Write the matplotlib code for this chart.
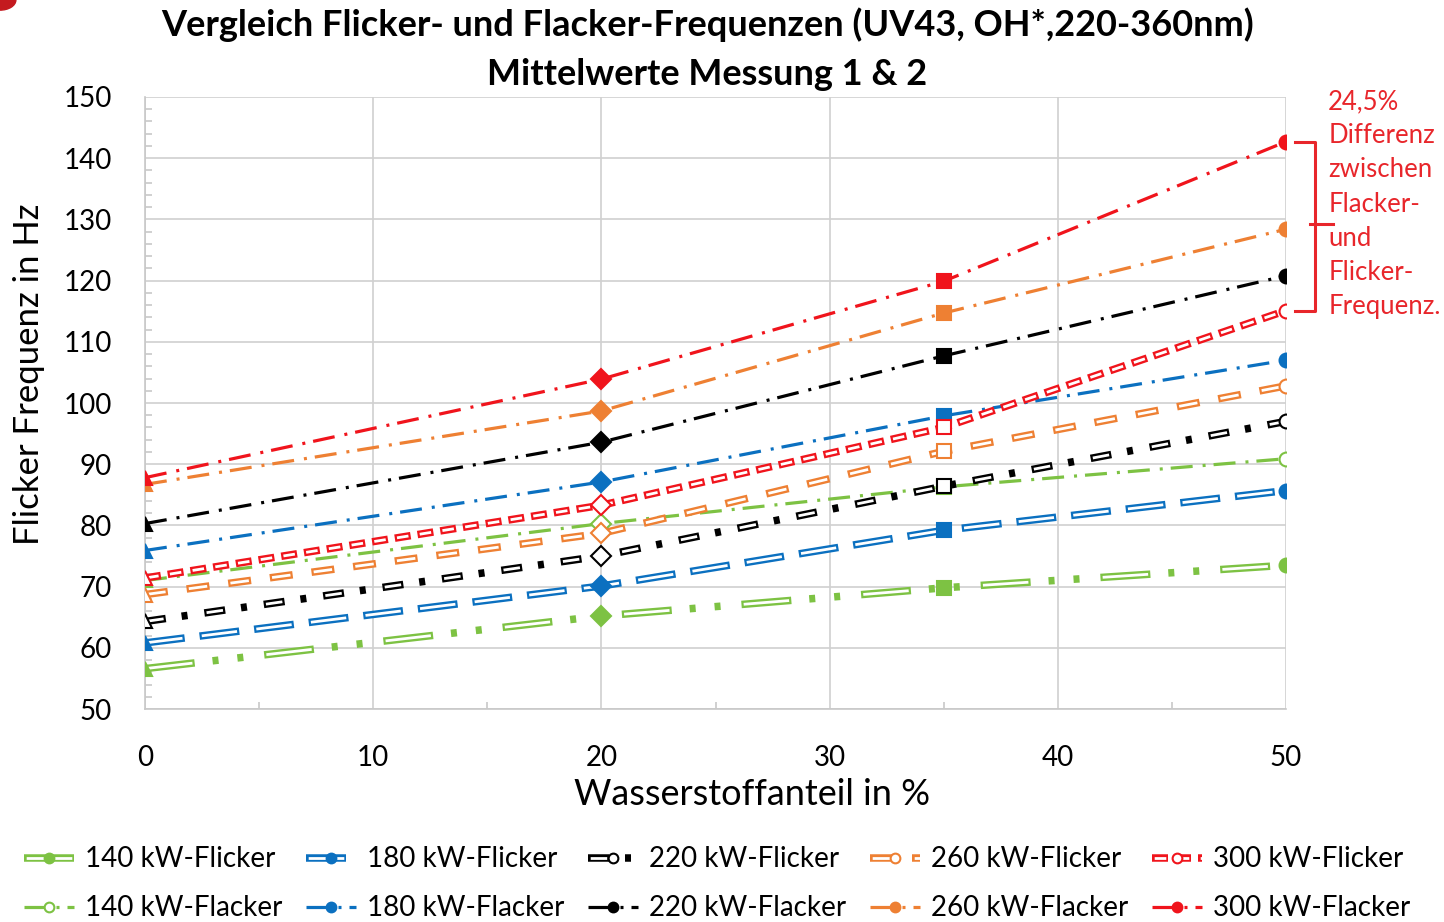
import matplotlib as mpl
mpl.use('Agg')
import matplotlib.pyplot as plt
from matplotlib.lines import Line2D
from matplotlib.patches import Circle
from matplotlib.legend_handler import HandlerTuple

plt.rcParams['font.family'] = ['Lato', 'DejaVu Sans']
plt.rcParams['lines.scale_dashes'] = False

# data
h2_share = [0, 20, 35, 50]
powers = ['140', '180', '220', '260', '300']
flicker = {
    '140': [56.6, 65.2, 69.8, 73.5],
    '180': [60.8, 70.1, 79.2, 85.7],
    '220': [64.3, 75.0, 86.4, 97.0],
    '260': [68.7, 78.7, 92.1, 102.8],
    '300': [71.4, 83.3, 96.0, 115.1],
}
flacker = {
    '140': [71.0, 80.3, 86.3, 90.9],
    '180': [75.9, 87.1, 97.9, 107.0],
    '220': [80.3, 93.6, 107.7, 120.8],
    '260': [86.7, 98.7, 114.7, 128.4],
    '300': [87.8, 103.9, 119.9, 142.7],
}
colors = {'140': '#7dc243', '180': '#0b70c0', '220': '#000000',
          '260': '#ee8033', '300': '#f0141c'}
markers = ['^', 'D', 's', 'o']
flicker_hollow = {'140': False, '180': False, '220': True, '260': True, '300': True}
flacker_hollow = {'140': True, '180': False, '220': False, '260': False, '300': False}

# dash patterns in pixels (on, off, ...) and which "on" parts are outlined
flicker_dash = {
    '140': ([50, 18, 6, 19, 6, 21], [True, False, False]),
    '180': ([40, 15], [True]),
    '220': ([21, 16, 6, 17], [True, False]),
    '260': ([23, 19], [True]),
    '300': ([16, 7], [True]),
}
flacker_dash = [22, 10, 3, 8]

PX = 0.72  # pixel -> point at dpi 100


def inner_pattern(pat, hollow, m=2.2):
    # white inner stroke for the Excel style double line
    seq = []
    for k in range(0, len(pat), 2):
        on, off = pat[k], pat[k + 1]
        if hollow[k // 2]:
            seq += [('off', m), ('on', on - 2 * m), ('off', m)]
        else:
            seq += [('off', on)]
        seq += [('off', off)]
    merged = []
    for kind, v in seq:
        if merged and merged[-1][0] == kind:
            merged[-1][1] += v
        else:
            merged.append([kind, v])
    lead = 0
    if merged[0][0] == 'off':
        lead = merged[0][1]
        merged = merged[1:]
        merged[-1][1] += lead
    period = sum(pat)
    dashes = [v * PX for _, v in merged]
    offset = ((period - lead) % period) * PX
    return offset, dashes


fig = plt.figure(figsize=(14.44, 9.22), dpi=100)
ax = fig.add_axes([0.1004, 0.231, 0.7902, 0.6638])

# slide decoration in the top-left corner
fig.patches.append(Circle((0.0, 1.0), 0.011, transform=fig.transFigure,
                          color='#c41a1f', clip_on=False))

handles = {}
for p in powers:
    c = colors[p]
    # Flicker: double line dashes
    pat, hol = flicker_dash[p]
    outer, = ax.plot(h2_share, flicker[p], color=c, lw=5.4,
                     ls=(0, [v * PX for v in pat]), dash_capstyle='butt', zorder=3)
    off, inner_d = inner_pattern(pat, hol)
    inner, = ax.plot(h2_share, flicker[p], color='white', lw=2.0,
                     ls=(off, inner_d), dash_capstyle='butt', zorder=3.1)
    fc = 'white' if flicker_hollow[p] else c
    for i, x in enumerate(h2_share):
        ax.plot(x, flicker[p][i], marker=markers[i], ms=10, mfc=fc, mec=c, mew=1.5,
                ls='none', zorder=4)
    mk = Line2D([], [], marker='o', ms=7, mfc=fc, mec=c, mew=1.5, ls='none')
    handles[p + ' kW-Flicker'] = (outer, inner, mk)

    # Flacker: thin dash dot
    fl, = ax.plot(h2_share, flacker[p], color=c, lw=2.3,
                  ls=(0, [v * PX for v in flacker_dash]), zorder=3)
    fc = 'white' if flacker_hollow[p] else c
    for i, x in enumerate(h2_share):
        ax.plot(x, flacker[p][i], marker=markers[i], ms=10, mfc=fc, mec=c, mew=1.5,
                ls='none', zorder=4)
    mk2 = Line2D([], [], marker='o', ms=7, mfc=fc, mec=c, mew=1.5, ls='none')
    handles[p + ' kW-Flacker'] = (fl, mk2)

ax.set_xlim(0, 50)
ax.set_ylim(50, 150)
ax.set_xticks(range(0, 51, 10))
ax.set_xticks(range(5, 50, 10), minor=True)
ax.set_yticks(range(50, 151, 10))
ax.set_yticks(range(50, 151, 2), minor=True)
ax.grid(True, which='major', color='#d0d0d0', lw=1.2)
ax.set_axisbelow(True)
for s in ['top', 'right']:
    ax.spines[s].set_visible(False)
for s in ['left', 'bottom']:
    ax.spines[s].set_color('#c8c8c8')
    ax.spines[s].set_linewidth(1.2)
ax.tick_params(which='major', length=0, labelsize=20)
ax.tick_params(axis='y', pad=24)
ax.tick_params(axis='x', pad=26)
ax.tick_params(which='minor', direction='in', length=5, color='#c8c8c8', width=1.2)

ax.set_xlabel('Wasserstoffanteil in %', fontsize=26)
ax.xaxis.set_label_coords(0.532, -0.112)
ax.set_ylabel('Flicker Frequenz in Hz', fontsize=25)
ax.yaxis.set_label_coords(-0.088, 0.547)
fig.text(0.49, 0.992, 'Vergleich Flicker- und Flacker-Frequenzen (UV43, OH*,220-360nm)\n'
         'Mittelwerte Messung 1 & 2', ha='center', va='top', fontsize=26,
         fontweight='bold', linespacing=1.6)

# bracket and note on the right
tr = ax.get_yaxis_transform()
red = '#e8262b'
top, bot = flacker['300'][-1], flicker['300'][-1]
mid = (top + bot) / 2 + 0.3
ax.plot([1.008, 1.025, 1.025, 1.008], [top, top, bot, bot], color=red, lw=2.2,
        transform=tr, clip_on=False, solid_joinstyle='round')
ax.plot([1.021, 1.041], [mid, mid], color=red, lw=2.2, transform=tr, clip_on=False)
ax.text(1.037, 151.3, '24,5%\nDifferenz\nzwischen\nFlacker-\nund\nFlicker-\nFrequenz.',
        transform=tr, color=red, fontsize=18.5, va='top', ha='left', linespacing=1.46)

labels = []
hs = []
for p in powers:
    labels += [p + ' kW-Flicker', p + ' kW-Flacker']
    hs += [handles[p + ' kW-Flicker'], handles[p + ' kW-Flacker']]
fig.legend(hs, labels, ncol=5, loc='upper left', bbox_to_anchor=(0.003, 0.103),
           frameon=False, fontsize=20, handlelength=1.8, columnspacing=0.85,
           handletextpad=0.4, labelspacing=0.82, borderpad=0.2,
           handler_map={tuple: HandlerTuple(ndivide=1, pad=0)})

fig.savefig('out.png', dpi=100)
